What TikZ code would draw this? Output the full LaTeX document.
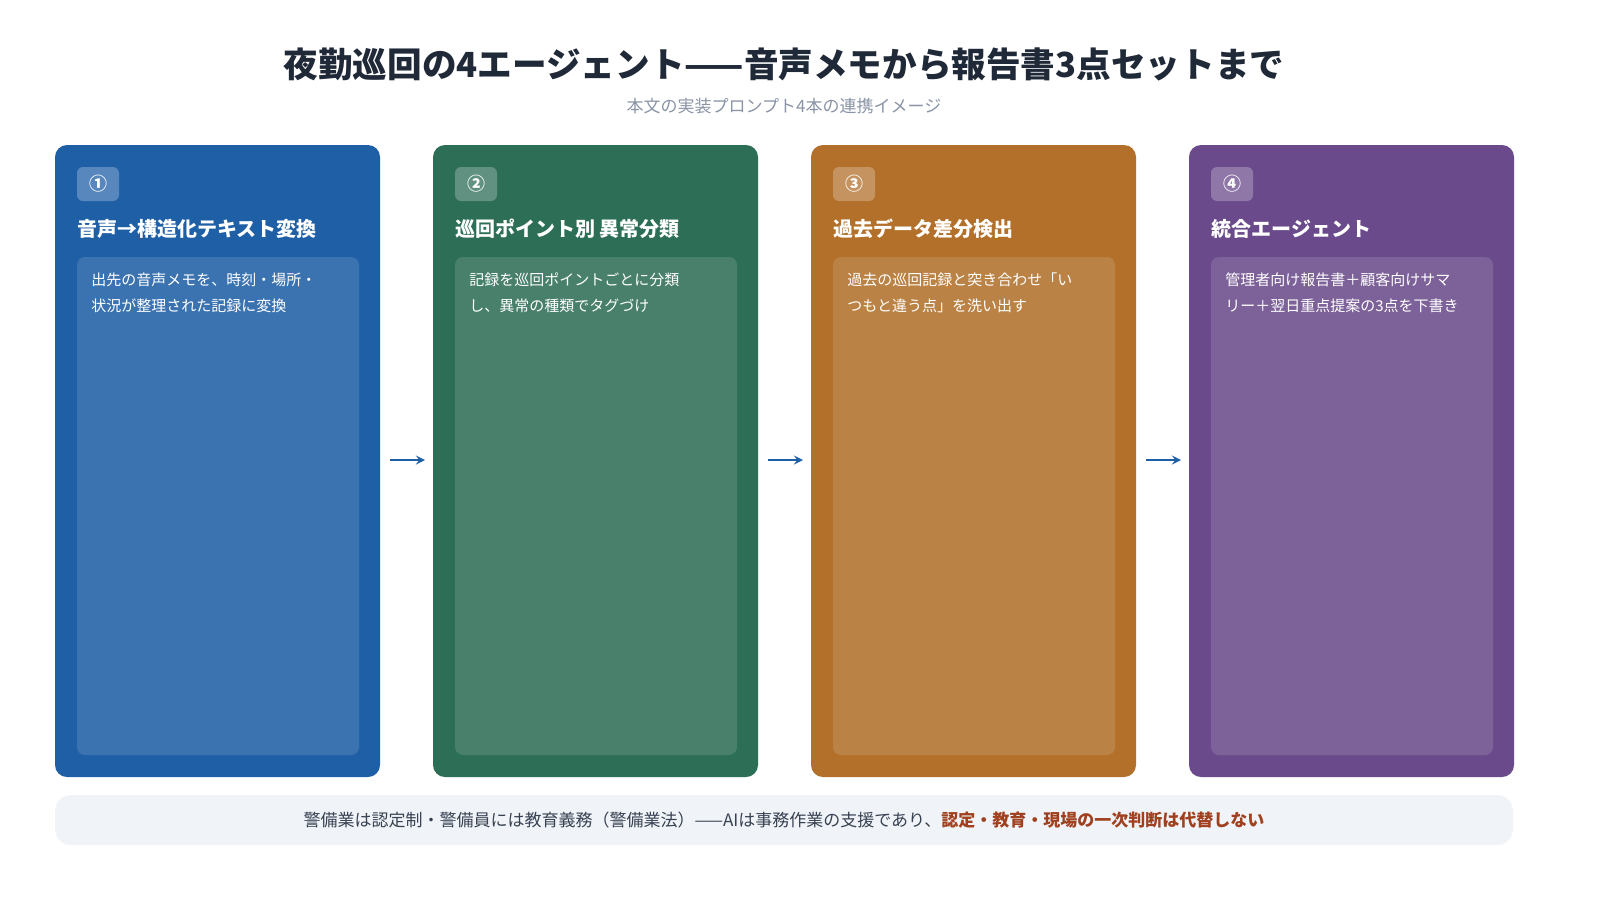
\documentclass[tikz,border=0pt]{standalone}
\usepackage{fontspec}
\setmainfont{Noto Sans CJK JP}
\begin{document}
\begin{tikzpicture}[x=0.5pt,y=-0.5pt,
 card/.style={rounded corners=6pt,draw=none},
 inner/.style={rounded corners=4pt,fill=white,fill opacity=0.13,draw=none},
 badge/.style={rounded corners=3pt,fill=white,fill opacity=0.25,draw=none},
 ctitle/.style={anchor=west,text=white,font=\bfseries\fontsize{10}{12}\selectfont,inner sep=0},
 ctext/.style={anchor=north west,text=white,font=\fontsize{7.5}{13}\selectfont,align=left,inner sep=0},
 num/.style={text=white,font=\bfseries\fontsize{9}{10}\selectfont,inner sep=0},
 arr/.style={->,line width=1pt,draw=c1,>=stealth}]
\definecolor{c1}{HTML}{1F5FA6}\definecolor{c2}{HTML}{2D6E57}
\definecolor{c3}{HTML}{B2702A}\definecolor{c4}{HTML}{6A4A8A}
\definecolor{tt}{HTML}{1F2937}\definecolor{sub}{HTML}{8A94A6}
\definecolor{fbg}{HTML}{F0F4F8}\definecolor{ft}{HTML}{374151}\definecolor{fr}{HTML}{A0401F}
\useasboundingbox[fill=white] (0,0) rectangle (1600,900);
\node[text=tt,font=\bfseries\fontsize{17.3}{19}\selectfont] (title) at (784,64) {夜勤巡回の4エージェント——音声メモから報告書3点セットまで};
\node[text=sub,font=\fontsize{8.5}{10}\selectfont] (subtitle) at (784,106) {本文の実装プロンプト4本の連携イメージ};
\foreach \i/\x/\c/\n/\t/\b in {
 1/55/c1/①/{音声→構造化テキスト変換}/{出先の音声メモを、時刻・場所・\\状況が整理された記録に変換},
 2/433/c2/②/{巡回ポイント別 異常分類}/{記録を巡回ポイントごとに分類\\し、異常の種類でタグづけ},
 3/811/c3/③/{過去データ差分検出}/{過去の巡回記録と突き合わせ「い\\つもと違う点」を洗い出す},
 4/1189/c4/④/{統合エージェント}/{管理者向け報告書＋顧客向けサマ\\リー＋翌日重点提案の3点を下書き}}{
 \fill[card,\c] (\x,145) rectangle ++(325,632);
 \fill[badge] (\x+22,167) rectangle ++(42,34);
 \node[num] (n\i) at (\x+43,184) {\n};
 \node[ctitle] (t\i) at (\x+22,229) {\t};
 \fill[inner] (\x+22,257) rectangle ++(282,498);
 \node[ctext] (b\i) at (\x+36,272) {\b};
}
\foreach \x/\k in {390/1,768/2,1146/3}{
 \coordinate (a\k) at (\x,460); \coordinate (e\k) at (\x+35,460);
 \draw[arr] (a\k) -- (e\k);
}
\fill[fbg,rounded corners=8pt] (55,795) rectangle (1513,845);
\node[text=ft,font=\fontsize{8.5}{10}\selectfont] (foot) at (784,820) {警備業は認定制・警備員には教育義務（警備業法）——AIは事務作業の支援であり、\textcolor{fr}{\bfseries 認定・教育・現場の一次判断は代替しない}};
\end{tikzpicture}
\end{document}
